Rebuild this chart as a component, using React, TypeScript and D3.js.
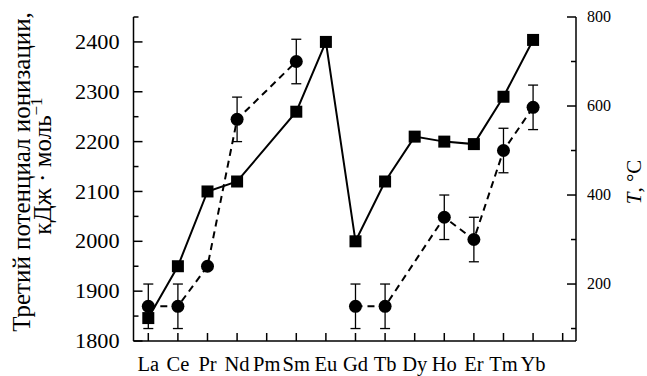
import React from 'react';
import * as d3 from 'd3';

const elements = ['La', 'Ce', 'Pr', 'Nd', 'Pm', 'Sm', 'Eu', 'Gd', 'Tb', 'Dy', 'Ho', 'Er', 'Tm', 'Yb'];
// third ionization potential, kJ/mol (squares, solid line, left axis)
const ionization: (number | null)[] = [1846, 1950, 2100, 2120, null, 2260, 2400, 2000, 2120, 2210, 2200, 2195, 2290, 2404];
// temperature, °C (circles, dashed line, right axis)
const temperature: (number | null)[] = [150, 150, 240, 570, null, 700, null, 150, 150, null, 350, 300, 500, 597];
const tempError: (number | null)[] = [50, 50, 0, 50, null, 50, null, 50, 50, null, 50, 50, 50, 50];
const tempGroups = [['La', 'Ce', 'Pr', 'Nd', 'Sm'], ['Gd', 'Tb', 'Ho', 'Er', 'Tm', 'Yb']];

const leftTicks = [1800, 1900, 2000, 2100, 2200, 2300, 2400];
const leftMinor = [1850, 1950, 2050, 2150, 2250, 2350, 2450];
const rightTicks = [200, 400, 600, 800];
const rightMinor = [100, 300, 500, 700];

const W = 647, H = 376;
const L = 133.5, R = 576, T = 17, B = 341;
const font = 'Liberation Serif, DejaVu Serif, serif';

export default function App() {
  const x = d3.scaleLinear().domain([-0.5, 14.45]).range([L, R]);
  const yL = d3.scaleLinear().domain([1800, 2450]).range([B, T]);
  const yR = d3.scaleLinear().domain([72, 800]).range([B, T]);

  const sq = elements.map((e, i) => ({ e, i, v: ionization[i] })).filter(d => d.v != null) as { e: string; i: number; v: number }[];
  const circ = elements.map((e, i) => ({ e, i, v: temperature[i], err: tempError[i] })).filter(d => d.v != null) as { e: string; i: number; v: number; err: number }[];

  const solid = d3.line<{ i: number; v: number }>().x(d => x(d.i)).y(d => yL(d.v))(sq) || '';
  const dashLine = d3.line<{ i: number; v: number }>().x(d => x(d.i)).y(d => yR(d.v));

  return (
    <svg width={W} height={H} style={{ position: 'absolute', left: 0, top: 0, background: '#fff', fontFamily: font }}>
      {/* axes frame */}
      <g stroke="#000" strokeWidth={1.5} fill="none">
        <line x1={L} x2={L} y1={T} y2={B} />
        <line x1={R} x2={R} y1={T} y2={B} />
        <line x1={L} x2={R} y1={B} y2={B} />
        {leftTicks.map(t => <line key={'lt' + t} x1={L} x2={L + 9} y1={yL(t)} y2={yL(t)} />)}
        {leftMinor.map(t => <line key={'lm' + t} x1={L} x2={L + 5} y1={yL(t)} y2={yL(t)} />)}
        {rightTicks.map(t => <line key={'rt' + t} x1={R} x2={R - 9} y1={yR(t)} y2={yR(t)} />)}
        {rightMinor.map(t => <line key={'rm' + t} x1={R} x2={R - 5} y1={yR(t)} y2={yR(t)} />)}
        {d3.range(15).map(i => <line key={'xt' + i} x1={x(i)} x2={x(i)} y1={B} y2={B - 8} />)}
      </g>

      {/* tick labels */}
      {leftTicks.map(t => (
        <g key={'ll' + t} transform={`translate(${L - 14},${yL(t)}) scale(1.06,1)`}>
          <text dy="0.34em" textAnchor="end" fontSize={21}>{t}</text>
        </g>
      ))}
      {rightTicks.map(t => (
        <text key={'rl' + t} x={R + 11} y={yR(t)} dy="0.34em" textAnchor="start" fontSize={16}>{t}</text>
      ))}
      {elements.map((e, i) => (
        <text key={'xl' + e} x={x(i)} y={371} textAnchor="middle" fontSize={20.5}>{e}</text>
      ))}

      {/* axis titles */}
      <g transform="translate(30,172) rotate(-90)">
        <text textAnchor="middle" fontSize={25}>Третий потенциал ионизации,</text>
      </g>
      <g transform="translate(51,166) rotate(-90)">
        <text textAnchor="middle" fontSize={25}>кДж · моль<tspan dy={-9} fontSize={17}>−1</tspan></text>
      </g>
      <g transform="translate(641,182) rotate(-90)">
        <text textAnchor="middle" fontSize={21}><tspan fontStyle="italic">T</tspan>, °C</text>
      </g>

      {/* ionization potential */}
      <path d={solid} fill="none" stroke="#000" strokeWidth={2} />
      {sq.map(d => (
        <rect key={'sq' + d.e} x={x(d.i) - 6} y={yL(d.v) - 6} width={12} height={12} fill="#000" />
      ))}

      {/* temperature */}
      {tempGroups.map((g, k) => {
        const pts = circ.filter(d => g.includes(d.e));
        return <path key={'dl' + k} d={dashLine(pts) || ''} fill="none" stroke="#000" strokeWidth={2} strokeDasharray="7,5" />;
      })}
      {circ.filter(d => d.err > 0).map(d => (
        <g key={'eb' + d.e} stroke="#000" strokeWidth={1.3}>
          <line x1={x(d.i)} x2={x(d.i)} y1={yR(d.v - d.err)} y2={yR(d.v + d.err)} />
          <line x1={x(d.i) - 5} x2={x(d.i) + 5} y1={yR(d.v - d.err)} y2={yR(d.v - d.err)} />
          <line x1={x(d.i) - 5} x2={x(d.i) + 5} y1={yR(d.v + d.err)} y2={yR(d.v + d.err)} />
        </g>
      ))}
      {circ.map(d => (
        <circle key={'c' + d.e} cx={x(d.i)} cy={yR(d.v)} r={6.5} fill="#000" />
      ))}
    </svg>
  );
}
